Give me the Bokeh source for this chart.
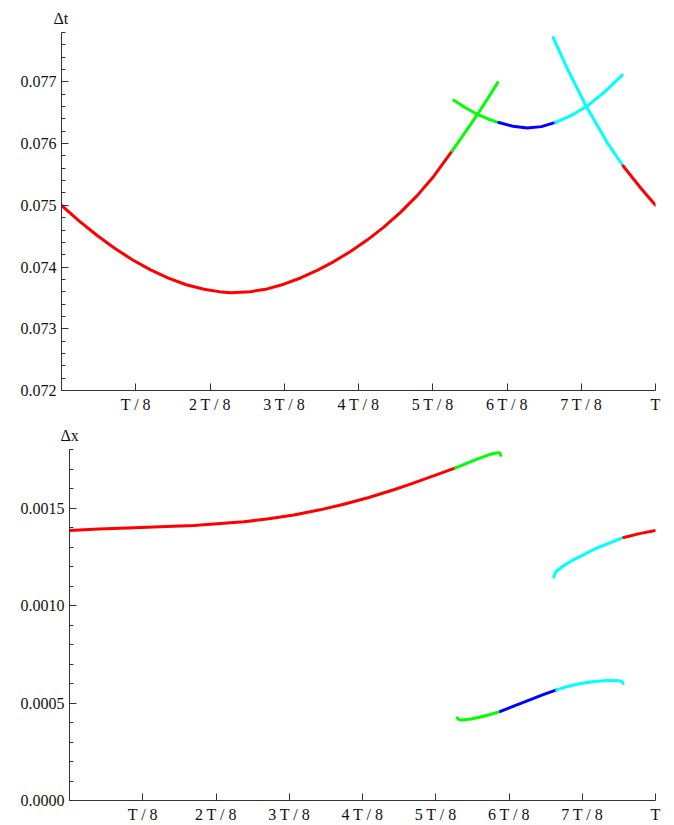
from bokeh.plotting import figure
from bokeh.models import FixedTicker, Range1d
from bokeh.embed import file_html
from bokeh.resources import INLINE

# ---------------- data (time in units of the period T) ----------------
x_tick_values = [1/8, 2/8, 3/8, 4/8, 5/8, 6/8, 7/8, 1.0]
x_tick_labels = ["T / 8", "2 T / 8", "3 T / 8", "4 T / 8", "5 T / 8", "6 T / 8", "7 T / 8", "T"]

dt_tick_values = [0.072, 0.073, 0.074, 0.075, 0.076, 0.077]
dt_tick_labels = ["0.072", "0.073", "0.074", "0.075", "0.076", "0.077"]
dx_tick_values = [0.0, 0.0005, 0.0010, 0.0015]
dx_tick_labels = ["0.0000", "0.0005", "0.0010", "0.0015"]

# Top panel: Delta t
dt_red1_t = [0.0, 0.03, 0.06, 0.09, 0.12, 0.15, 0.18, 0.21, 0.24, 0.27, 0.2845, 0.3182, 0.3463,
             0.3743, 0.4024, 0.4304, 0.4585, 0.4865, 0.5146, 0.5426, 0.5707, 0.5988, 0.6268, 0.6577]
dt_red1_v = [0.075, 0.074745, 0.074511, 0.074301, 0.074115, 0.0739545, 0.0738195, 0.073713, 0.073640,
             0.073594, 0.073583, 0.073601, 0.073646, 0.073722, 0.073823, 0.073946, 0.074089, 0.074252,
             0.074437, 0.074647, 0.074886, 0.075157, 0.075472, 0.075883]
dt_green1_t = [0.6577, 0.6801, 0.7003, 0.7170, 0.7345]
dt_green1_v = [0.075883, 0.076190, 0.076475, 0.076720, 0.076989]
dt_green2_t = [0.6605, 0.6801, 0.7003, 0.7190, 0.7362]
dt_green2_v = [0.076704, 0.076580, 0.076472, 0.076395, 0.076341]
dt_blue_t = [0.7362, 0.7600, 0.7840, 0.8080, 0.8316]
dt_blue_v = [0.076341, 0.076280, 0.076252, 0.076275, 0.076345]
dt_cyan1_t = [0.8316, 0.8569, 0.8833, 0.9130, 0.9439]
dt_cyan1_v = [0.076345, 0.076450, 0.076596, 0.076827, 0.077108]
dt_cyan2_t = [0.8278, 0.8513, 0.8833, 0.9187, 0.9456]
dt_cyan2_v = [0.077717, 0.077218, 0.076605, 0.076016, 0.075637]
dt_red2_t = [0.9456, 0.9747, 1.0]
dt_red2_v = [0.075637, 0.075285, 0.075]

# Bottom panel: Delta x
dx_red1_t = [0.0, 0.05, 0.0985, 0.1553, 0.2121, 0.2975, 0.3401, 0.3828, 0.4255, 0.4681, 0.5108,
             0.5534, 0.5819, 0.6104, 0.6587]
dx_red1_v = [0.0013846, 0.0013920, 0.0013975, 0.0014035, 0.0014103, 0.0014291, 0.0014444, 0.0014645,
             0.0014893, 0.0015191, 0.0015541, 0.0015937, 0.0016228, 0.0016536, 0.0017060]
dx_green1_t = [0.6587, 0.6957, 0.7190, 0.7309, 0.7345, 0.7358]
dx_green1_v = [0.0017060, 0.0017504, 0.0017760, 0.0017840, 0.0017820, 0.0017700]
dx_cyan1_t = [0.8264, 0.8280, 0.8310, 0.8350, 0.8430, 0.8549, 0.8700, 0.9005, 0.9459]
dx_cyan1_v = [0.0011451, 0.0011620, 0.0011760, 0.0011860, 0.0012040, 0.0012260, 0.0012490, 0.0012960,
              0.0013490]
dx_red2_t = [0.9459, 0.9744, 1.0]
dx_red2_v = [0.0013490, 0.0013700, 0.0013846]
dx_green2_t = [0.6616, 0.6640, 0.6700, 0.6850, 0.7014, 0.7180, 0.7355]
dx_green2_v = [0.000424, 0.000416, 0.000413, 0.000418, 0.000428, 0.000441, 0.000457]
dx_blue_t = [0.7355, 0.7580, 0.7811, 0.8060, 0.8311]
dx_blue_v = [0.000457, 0.000484, 0.000511, 0.000540, 0.000567]
dx_cyan2_t = [0.8311, 0.8500, 0.8720, 0.8950, 0.9176, 0.9374, 0.9430, 0.9449]
dx_cyan2_v = [0.000567, 0.000585, 0.000600, 0.000610, 0.000615, 0.000614, 0.000609, 0.000600]

RED, GREEN, BLUE, CYAN = "#ff0000", "#00ff00", "#0000ff", "#00ffff"
FONT = "Liberation Serif"
AX = "#333333"


def make_fig(height, border_left, border_top, y_range, yticks, ylabels, minor, sym, sym_offset):
    p = figure(width=674, height=height, output_backend="svg", toolbar_location=None,
               x_range=Range1d(0, 1), y_range=Range1d(*y_range),
               min_border_left=border_left, min_border_right=19,
               min_border_top=border_top, min_border_bottom=25)
    p.outline_line_color = None
    p.background_fill_color = "white"
    p.border_fill_color = "white"
    p.xgrid.visible = False
    p.ygrid.visible = False
    p.xaxis.ticker = FixedTicker(ticks=x_tick_values, minor_ticks=[])
    p.xaxis.major_label_overrides = {v: s for v, s in zip(x_tick_values, x_tick_labels)}
    p.yaxis.ticker = FixedTicker(ticks=yticks, minor_ticks=minor)
    p.yaxis.major_label_overrides = {v: s for v, s in zip(yticks, ylabels)}
    for ax in (p.xaxis[0], p.yaxis[0]):
        ax.axis_line_color = AX
        ax.major_tick_line_color = AX
        ax.minor_tick_line_color = AX
        ax.major_tick_in = 7
        ax.major_tick_out = 0
        ax.minor_tick_in = 4
        ax.minor_tick_out = 0
        ax.major_label_text_font = FONT
        ax.major_label_text_font_size = "16px"
        ax.major_label_text_color = "#111111"
        ax.major_label_standoff = 5
    p.title.text = sym
    p.title.align = "left"
    p.title.offset = sym_offset
    p.title.standoff = 12
    p.title.text_font = FONT
    p.title.text_font_size = "16px"
    p.title.text_font_style = "normal"
    p.title.text_color = "#111111"
    return p


p1 = make_fig(415, 61, 32, (0.072, 0.0778), dt_tick_values, dt_tick_labels,
              [round(0.072 + 0.0002 * i, 5) for i in range(30)], "Δt", -8)
for t, v, c in [(dt_red1_t, dt_red1_v, RED), (dt_green1_t, dt_green1_v, GREEN),
                (dt_green2_t, dt_green2_v, GREEN), (dt_blue_t, dt_blue_v, BLUE),
                (dt_cyan1_t, dt_cyan1_v, CYAN), (dt_cyan2_t, dt_cyan2_v, CYAN),
                (dt_red2_t, dt_red2_v, RED)]:
    p1.line(t, v, line_color=c, line_width=3, line_cap="round", line_join="round")

p2 = make_fig(410, 69, 34, (0.0, 0.0018), dx_tick_values, dx_tick_labels,
              [round(0.0001 * i, 5) for i in range(19)], "Δx", -9)
for t, v, c in [(dx_red1_t, dx_red1_v, RED), (dx_green1_t, dx_green1_v, GREEN),
                (dx_cyan1_t, dx_cyan1_v, CYAN), (dx_red2_t, dx_red2_v, RED),
                (dx_green2_t, dx_green2_v, GREEN), (dx_blue_t, dx_blue_v, BLUE),
                (dx_cyan2_t, dx_cyan2_v, CYAN)]:
    p2.line(t, v, line_color=c, line_width=3, line_cap="round", line_join="round")

open("out.html", "w").write(file_html([p1, p2], INLINE))
